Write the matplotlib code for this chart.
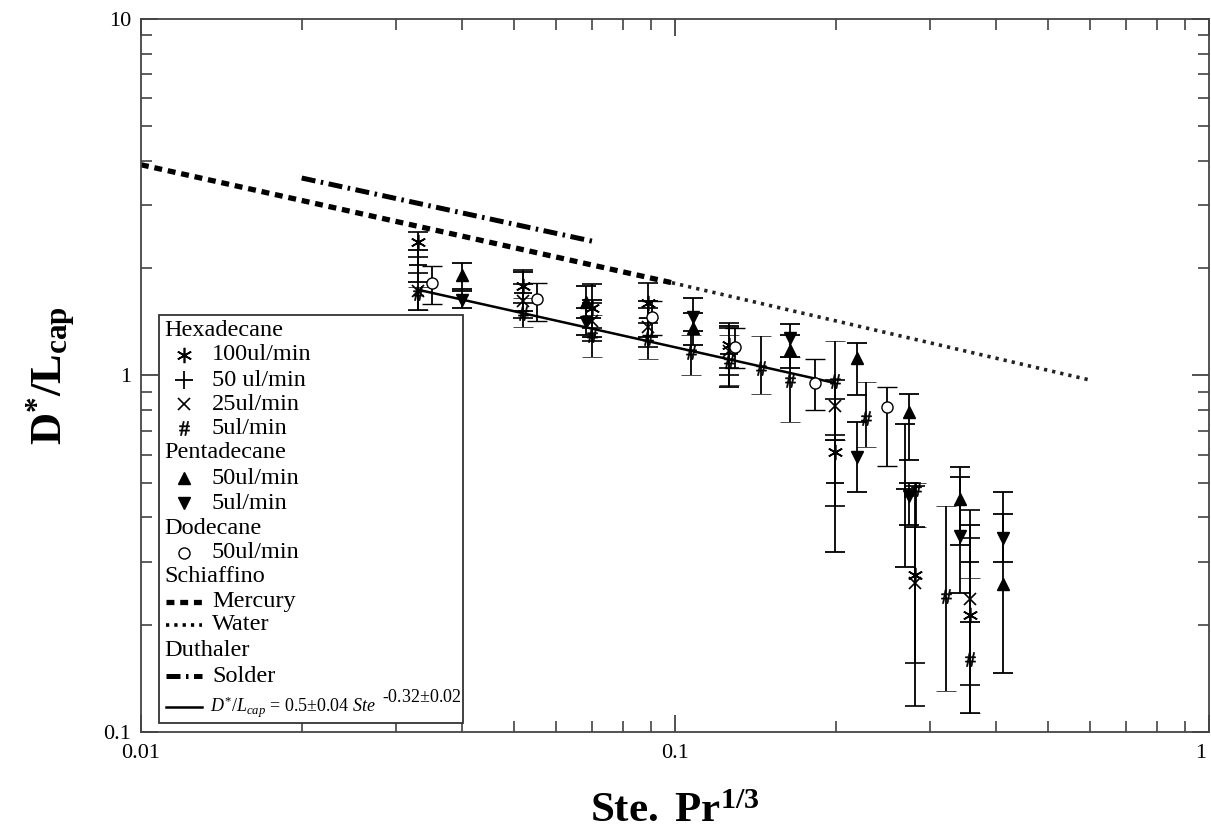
import numpy as np
import matplotlib
matplotlib.use("Agg")
import matplotlib.pyplot as plt
from matplotlib import ticker
from matplotlib.patches import Rectangle
from matplotlib.transforms import ScaledTranslation

plt.rcParams['font.family'] = ['Liberation Serif', 'DejaVu Serif']
plt.rcParams['mathtext.fontset'] = 'custom'
plt.rcParams['mathtext.rm'] = 'Liberation Serif'
plt.rcParams['mathtext.it'] = 'Liberation Serif:italic'
plt.rcParams['mathtext.bf'] = 'Liberation Serif:bold'

# ---- Hexadecane (x, y, bottom of error bar, top of error bar) ----
hex100_x = [0.033, 0.052, 0.070, 0.089, 0.126, 0.199, 0.281, 0.357]
hex100_y = [2.37, 1.78, 1.55, 1.60, 1.22, 0.61, 0.275, 0.213]
hex100_lo = [2.15, 1.60, 1.36, 1.40, 1.05, 0.43, 0.156, 0.113]
hex100_hi = [2.53, 1.98, 1.80, 1.82, 1.40, 0.86, 0.375, 0.35]

hex50_x = [0.033, 0.052, 0.070, 0.089, 0.126, 0.199, 0.270, 0.357]
hex50_y = [2.04, 1.70, 1.45, 1.45, 1.15, 0.50, 0.48, 0.30]
hex50_lo = [1.83, 1.52, 1.28, 1.28, 0.93, 0.32, 0.29, 0.203]
hex50_hi = [2.25, 1.95, 1.63, 1.62, 1.38, 0.66, 0.73, 0.38]

hex25_x = [0.033, 0.052, 0.070, 0.089, 0.126, 0.199, 0.281, 0.357]
hex25_y = [1.72, 1.62, 1.42, 1.37, 1.17, 0.82, 0.262, 0.236]
hex25_lo = [1.53, 1.45, 1.25, 1.20, 1.00, 0.68, 0.118, 0.135]
hex25_hi = [1.94, 1.80, 1.60, 1.55, 1.36, 0.97, 0.49, 0.42]

hex5_x = [0.033, 0.052, 0.070, 0.089, 0.107, 0.126, 0.145, 0.164, 0.199, 0.228, 0.283, 0.322, 0.357]
hex5_y = [1.70, 1.50, 1.30, 1.27, 1.16, 1.10, 1.05, 0.97, 0.965, 0.76, 0.48, 0.24, 0.16]
hex5_lo = [1.53, 1.37, 1.13, 1.11, 1.00, 0.94, 0.89, 0.74, 0.66, 0.63, 0.375, 0.13, 0.113]
hex5_hi = [1.77, 1.65, 1.48, 1.45, 1.30, 1.30, 1.29, 1.13, 1.25, 0.96, 0.50, 0.43, 0.27]

# ---- Pentadecane ----
pen50_x = [0.040, 0.068, 0.108, 0.164, 0.219, 0.274, 0.342, 0.411]
pen50_y = [1.91, 1.61, 1.36, 1.18, 1.12, 0.79, 0.45, 0.26]
pen50_lo = [1.72, 1.45, 1.22, 1.05, 0.88, 0.58, 0.334, 0.146]
pen50_hi = [2.07, 1.78, 1.50, 1.30, 1.23, 0.89, 0.554, 0.41]

pen5_x = [0.040, 0.068, 0.108, 0.164, 0.219, 0.274, 0.342, 0.411]
pen5_y = [1.63, 1.41, 1.46, 1.27, 0.59, 0.46, 0.355, 0.35]
pen5_lo = [1.55, 1.30, 1.33, 1.13, 0.47, 0.38, 0.245, 0.30]
pen5_hi = [1.75, 1.55, 1.65, 1.39, 0.74, 0.50, 0.52, 0.47]

# ---- Dodecane ----
dod50_x = [0.0351, 0.0551, 0.0906, 0.1296, 0.183, 0.249]
dod50_y = [1.82, 1.64, 1.46, 1.20, 0.953, 0.816]
dod50_lo = [1.59, 1.42, 1.30, 1.05, 0.80, 0.556]
dod50_hi = [2.03, 1.82, 1.62, 1.36, 1.11, 0.93]

# ---- correlations from literature ----
mercury_x = [0.01, 0.0987]
mercury_y = [3.90, 1.82]
water_x = [0.0987, 0.60]
water_y = [1.82, 0.97]
solder_x = [0.020, 0.070]
solder_y = [3.58, 2.38]

# power law fit D*/Lcap
fit_x = [0.033, 0.199]
fit_y = [1.74, 0.953]

fig = plt.figure(figsize=(12.11, 8.35), dpi=100)
ax = fig.add_axes([0.1164, 0.1234, 0.8819, 0.8539])
ax.set_xscale('log')
ax.set_yscale('log')
ax.set_xlim(0.01, 1)
ax.set_ylim(0.1, 10)

# estilos de cada serie (se usan en el grafico y en la leyenda)
st_hex100 = dict(marker=(6, 2, 0), ms=11, mew=1.2)
st_hex50 = dict(marker='+', ms=13, mew=1.3)
st_hex25 = dict(marker='x', ms=8, mew=1.2)
st_hex5 = dict(marker=r'$\#$', ms=10, mew=0.5)
st_pen50 = dict(marker='^', ms=9)
st_pen5 = dict(marker='v', ms=9)
st_dod50 = dict(marker='o', ms=8, mfc='white', mew=1.0)
st_mercury = dict(lw=3.8, dashes=(1.5, 1.1))
st_water = dict(lw=2.6, dashes=(0.9, 1.4))
st_solder = dict(lw=3.6, dashes=(2.8, 1.1, 0.5, 1.1))


def barras(x, y, lo, hi, **kw):
    x = np.array(x); y = np.array(y)
    err = [y - np.array(lo), np.array(hi) - y]
    ax.errorbar(x, y, yerr=err, color='black', ecolor='black', elinewidth=1.3,
                capsize=7, capthick=1.3, linestyle='none', **kw)


barras(hex100_x, hex100_y, hex100_lo, hex100_hi, **st_hex100)
barras(hex50_x, hex50_y, hex50_lo, hex50_hi, **st_hex50)
barras(hex25_x, hex25_y, hex25_lo, hex25_hi, **st_hex25)
barras(hex5_x, hex5_y, hex5_lo, hex5_hi, **st_hex5)
barras(pen50_x, pen50_y, pen50_lo, pen50_hi, **st_pen50)
barras(pen5_x, pen5_y, pen5_lo, pen5_hi, **st_pen5)
barras(dod50_x, dod50_y, dod50_lo, dod50_hi, **st_dod50)

ax.plot(mercury_x, mercury_y, color='black', **st_mercury)
ax.plot(water_x, water_y, color='#222222', **st_water)
ax.plot(solder_x, solder_y, color='black', **st_solder)
ax.plot(fit_x, fit_y, color='black', lw=1.8)

# ejes
for s in ax.spines.values():
    s.set_color('#444444')
    s.set_linewidth(1.3)
ax.tick_params(which='both', direction='in', top=True, right=True, color='#333333')
ax.tick_params(which='major', length=12, width=1.2, labelsize=16)
ax.tick_params(which='minor', length=8, width=1.1)
ax.tick_params(axis='x', which='major', pad=9)
ax.tick_params(axis='y', which='major', pad=7)
fmt = ticker.FuncFormatter(lambda v, p: f'{v:g}')
ax.xaxis.set_major_formatter(fmt)
ax.yaxis.set_major_formatter(fmt)
ax.xaxis.set_minor_formatter(ticker.NullFormatter())
ax.yaxis.set_minor_formatter(ticker.NullFormatter())

ax.set_xlabel(r'$\mathbf{Ste.\ Pr}^{\mathbf{1/3}}$', fontsize=31, labelpad=21)
ax.set_ylabel(r'$\mathbf{D}^{\mathbf{*}}\mathbf{/L}_{\mathbf{cap}}$', fontsize=32, labelpad=18)

# el "1" del eje x queda pegado al borde, se corre un poco a la izquierda
fig.canvas.draw()
for lab in ax.get_xticklabels():
    if lab.get_text() == '1':
        lab.set_transform(lab.get_transform() + ScaledTranslation(-6 / 72, 0, fig.dpi_scale_trans))

# leyenda armada a mano (en pixeles de la figura)
W, H = 1211.0, 835.0


def fx(px):
    return px / W


def fy(py):
    return 1 - py / H


tr = fig.transFigure
fig.patches.append(Rectangle((fx(159), fy(723)), fx(463) - fx(159), fy(315) - fy(723),
                             transform=tr, fill=True, facecolor='white',
                             edgecolor='#333333', lw=1.3, zorder=5))

fs = 17.5
filas = [
    ('Hexadecane', None, 330),
    ('100ul/min', st_hex100, 355),
    ('50 ul/min', st_hex50, 380),
    ('25ul/min', st_hex25, 404),
    ('5ul/min', st_hex5, 428),
    ('Pentadecane', None, 453),
    ('50ul/min', st_pen50, 478),
    ('5ul/min', st_pen5, 503),
    ('Dodecane', None, 528),
    ('50ul/min', st_dod50, 553),
    ('Schiaffino', None, 577),
    ('Mercury', st_mercury, 602),
    ('Water', st_water, 625),
    ('Duthaler', None, 651),
    ('Solder', st_solder, 676),
]
for txt, st, py in filas:
    if st is None:
        fig.text(fx(164), fy(py), txt, fontsize=fs, va='center', ha='left', zorder=6)
        continue
    if 'marker' in st:
        fig.add_artist(plt.Line2D([fx(184)], [fy(py)], color='black', transform=tr,
                                  linestyle='none', zorder=6, **st))
    else:
        fig.add_artist(plt.Line2D([fx(166), fx(202)], [fy(py), fy(py)], color='black',
                                  transform=tr, zorder=6, **st))
    fig.text(fx(212), fy(py), txt, fontsize=fs, va='center', ha='left', zorder=6)

fig.add_artist(plt.Line2D([fx(166), fx(202)], [fy(707), fy(707)], color='black',
                          lw=1.8, transform=tr, zorder=6))
fig.text(fx(210), fy(707), r'$\mathit{D}^{*}/\mathit{L}_{cap}$ = 0.5$\pm$0.04 $\mathit{Ste}$',
         fontsize=13, va='center', ha='left', zorder=6)
fig.text(fx(382), fy(697), r'-0.32$\pm$0.02', fontsize=13, va='center', ha='left', zorder=6)

fig.savefig('out.png', dpi=100)
